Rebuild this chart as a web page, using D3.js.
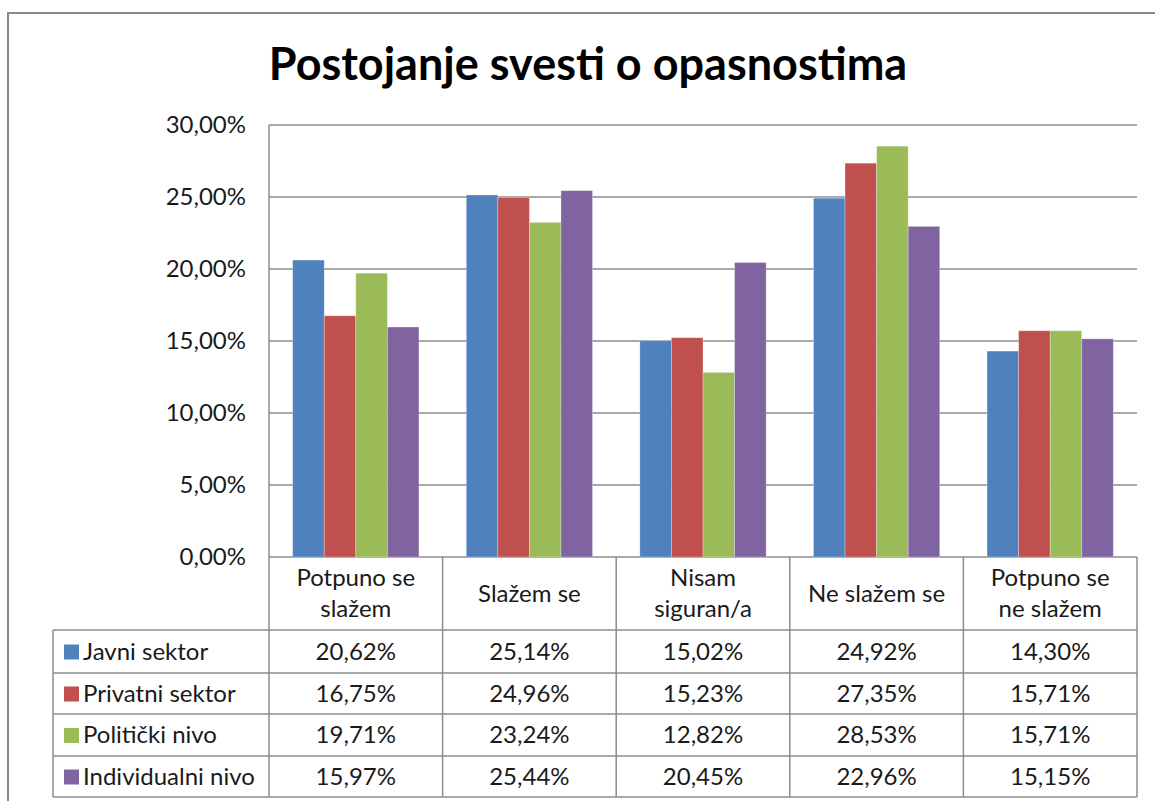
<!DOCTYPE html>
<html>
<head>
<meta charset="utf-8">
<script src="https://cdn.jsdelivr.net/npm/d3@7"></script>
<style>
  body { margin: 0; background: #fff; }
  svg { display: block; font-family: Lato, "Open Sans", sans-serif; }
</style>
</head>
<body>
<div id="chart"></div>
<script>
// data
const categories = [["Potpuno se", "slažem"], ["Slažem se"], ["Nisam", "siguran/a"], ["Ne slažem se"], ["Potpuno se", "ne slažem"]];
const seriesNames = ["Javni sektor", "Privatni sektor", "Politički nivo", "Individualni nivo"];
const javni = [20.62, 25.14, 15.02, 24.92, 14.30];
const privatni = [16.75, 24.96, 15.23, 27.35, 15.71];
const politicki = [19.71, 23.24, 12.82, 28.53, 15.71];
const individualni = [15.97, 25.44, 20.45, 22.96, 15.15];
const yTicks = [0, 5, 10, 15, 20, 25, 30];
const colors = ["#4F81BD", "#C0504D", "#9BBB59", "#8064A2"];

const series = [javni, privatni, politicki, individualni];

const width = 1155, height = 801;
const plot = { left: 269, right: 1137, top: 125, bottom: 557 };
const tableLeft = 53;
const headerBottom = 630;
const rowBottoms = [673, 714, 756, 797];
const fs = 24;

const locale = d3.formatLocale({ decimal: ",", thousands: ".", grouping: [3] });
const fmt = v => locale.format(".2f")(v) + "%";

const svg = d3.select("#chart").append("svg")
  .attr("width", width).attr("height", height);

// outer frame
svg.append("rect")
  .attr("x", 8).attr("y", 13)
  .attr("width", 1160).attr("height", 820)
  .attr("fill", "none").attr("stroke", "#898989").attr("stroke-width", 2);

svg.append("text")
  .attr("x", 588).attr("y", 80)
  .attr("text-anchor", "middle")
  .attr("font-size", 45).attr("font-weight", "bold")
  .attr("fill", "#000")
  .text("Postojanje svesti o opasnostima");

const x0 = d3.scaleBand()
  .domain(d3.range(categories.length))
  .range([plot.left, plot.right])
  .paddingInner(0.2727).paddingOuter(0.1364);

const x1 = d3.scaleBand()
  .domain(d3.range(seriesNames.length))
  .range([0, x0.bandwidth()]);

const y = d3.scaleLinear().domain([0, 30]).range([plot.bottom, plot.top]);

// gridlines
svg.append("g")
  .selectAll("line")
  .data(yTicks)
  .join("line")
  .attr("x1", plot.left).attr("x2", plot.right)
  .attr("y1", d => y(d)).attr("y2", d => y(d))
  .attr("stroke", "#8c8c8c").attr("stroke-width", 1.5);

svg.append("line")
  .attr("x1", plot.left).attr("x2", plot.left)
  .attr("y1", plot.top).attr("y2", plot.bottom)
  .attr("stroke", "#8c8c8c").attr("stroke-width", 1.5);

// y axis labels
const yAxis = d3.axisLeft(y).tickValues(yTicks).tickFormat(fmt).tickSize(0).tickPadding(23);
const yg = svg.append("g").attr("transform", `translate(${plot.left},0)`).call(yAxis);
yg.select(".domain").remove();
yg.selectAll("text")
  .attr("font-family", "Lato, sans-serif")
  .attr("font-size", fs).attr("fill", "#1a1a1a");

// bars
const groups = svg.append("g")
  .selectAll("g")
  .data(categories.map((c, i) => i))
  .join("g")
  .attr("transform", i => `translate(${x0(i)},0)`);

groups.selectAll("rect")
  .data(i => series.map((s, k) => ({ k, v: s[i] })))
  .join("rect")
  .attr("x", d => x1(d.k))
  .attr("y", d => y(d.v))
  .attr("width", x1.bandwidth())
  .attr("height", d => y(0) - y(d.v))
  .attr("fill", d => colors[d.k])
  .attr("stroke", "#ffffff").attr("stroke-opacity", 0.35).attr("stroke-width", 0.8);

// data table
const tg = svg.append("g");
const lineColor = "#8c8c8c";
const colEdges = [plot.left].concat(d3.range(categories.length).map(i => x0(i) + x0.bandwidth() + x0.step() * x0.paddingInner() / 2));
colEdges[colEdges.length - 1] = plot.right;

// vertical lines
colEdges.forEach(xv => {
  tg.append("line")
    .attr("x1", xv).attr("x2", xv)
    .attr("y1", plot.bottom).attr("y2", rowBottoms[3])
    .attr("stroke", lineColor).attr("stroke-width", 1.5);
});
tg.append("line")
  .attr("x1", tableLeft).attr("x2", tableLeft)
  .attr("y1", headerBottom).attr("y2", rowBottoms[3])
  .attr("stroke", lineColor).attr("stroke-width", 1.5);

// horizontal lines
[headerBottom].concat(rowBottoms).forEach(yv => {
  tg.append("line")
    .attr("x1", tableLeft).attr("x2", plot.right)
    .attr("y1", yv).attr("y2", yv)
    .attr("stroke", lineColor).attr("stroke-width", 1.5);
});

// header labels
categories.forEach((lines, i) => {
  const cx = (colEdges[i] + colEdges[i + 1]) / 2;
  const cy = (plot.bottom + headerBottom) / 2;
  const t = tg.append("text")
    .attr("x", cx).attr("text-anchor", "middle")
    .attr("font-size", fs).attr("fill", "#1a1a1a");
  lines.forEach((ln, j) => {
    t.append("tspan")
      .attr("x", cx)
      .attr("y", cy + 8 + (j - (lines.length - 1) / 2) * 31)
      .text(ln);
  });
});

// rows
const rowTops = [headerBottom].concat(rowBottoms.slice(0, 3));
seriesNames.forEach((name, k) => {
  const cy = (rowTops[k] + rowBottoms[k]) / 2;
  tg.append("rect")
    .attr("x", 64).attr("y", cy - 7)
    .attr("width", 15).attr("height", 15)
    .attr("fill", colors[k]);
  tg.append("text")
    .attr("x", 83).attr("y", cy + 8)
    .attr("font-size", fs).attr("fill", "#1a1a1a")
    .text(name);
  series[k].forEach((v, i) => {
    tg.append("text")
      .attr("x", (colEdges[i] + colEdges[i + 1]) / 2)
      .attr("y", cy + 8)
      .attr("text-anchor", "middle")
      .attr("font-size", fs).attr("fill", "#1a1a1a")
      .text(fmt(v));
  });
});
</script>
</body>
</html>
